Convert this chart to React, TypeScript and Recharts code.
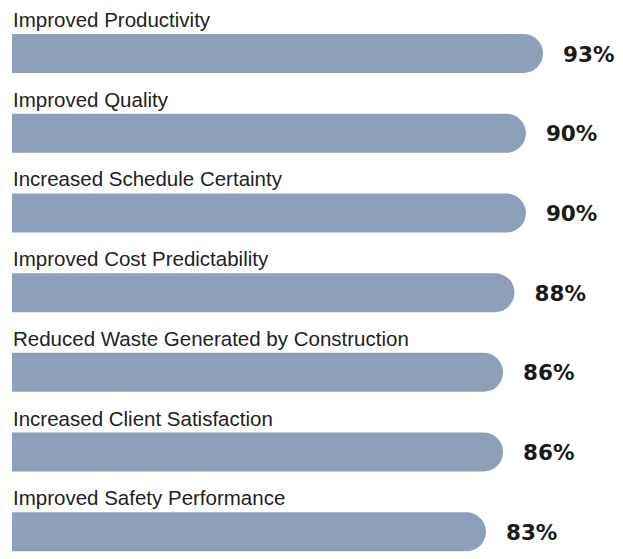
import { BarChart, Bar, XAxis, YAxis, LabelList } from 'recharts'

const categories = [
  'Improved Productivity',
  'Improved Quality',
  'Increased Schedule Certainty',
  'Improved Cost Predictability',
  'Reduced Waste Generated by Construction',
  'Increased Client Satisfaction',
  'Improved Safety Performance',
]

const percentages = [93, 90, 90, 88, 86, 86, 83]

const data = categories.map((name, i) => ({ name, value: percentages[i] }))

const BAR_COLOR = '#8e9fba'

function CategoryLabel(props: any) {
  const { x, y, value } = props
  return (
    <text
      x={x + 1}
      y={y - 7}
      fill="#222"
      fontSize={20.5}
      fontFamily="'Liberation Sans', Arial, sans-serif"
    >
      {value}
    </text>
  )
}

function ValueLabel(props: any) {
  const { x, y, width, height, value } = props
  return (
    <text
      x={x + width + 20}
      y={y + height / 2 + 2}
      dominantBaseline="middle"
      fill="#1a1a1a"
      fontSize={21.5}
      fontWeight="bold"
      fontFamily="'DejaVu Sans', sans-serif"
    >
      {value}%
    </text>
  )
}

export default function App() {
  return (
    <div
      style={{
        position: 'absolute',
        left: 0,
        top: 0,
        width: 623,
        height: 559,
        overflow: 'hidden',
        background: '#fff',
      }}
    >
      <BarChart
        width={623}
        height={572}
        data={data}
        layout="vertical"
        margin={{ top: 14, right: 40, left: 12, bottom: 0 }}
      >
        <XAxis type="number" domain={[0, 100]} hide />
        <YAxis type="category" dataKey="name" hide />
        <Bar
          dataKey="value"
          fill={BAR_COLOR}
          barSize={39}
          radius={[0, 20, 20, 0]}
          isAnimationActive={false}
        >
          <LabelList dataKey="name" content={CategoryLabel} />
          <LabelList dataKey="value" content={ValueLabel} />
        </Bar>
      </BarChart>
    </div>
  )
}
